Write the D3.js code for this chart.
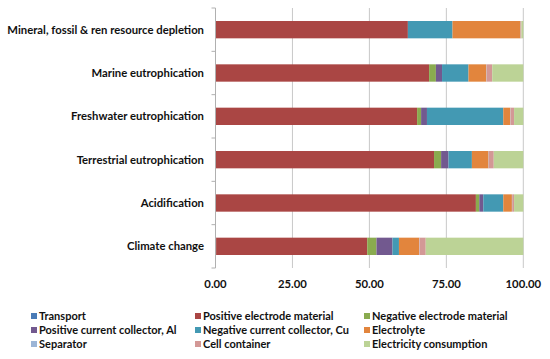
<!DOCTYPE html>
<html>
<head>
<meta charset="utf-8">
<script src="https://cdn.jsdelivr.net/npm/d3@7"></script>
<style>
  body { margin: 0; background: #fff; }
  svg { font-family: Lato, "Open Sans", sans-serif; font-weight: bold; }
</style>
</head>
<body>
<svg width="550" height="359"></svg>
<script>
const categories = ["Mineral, fossil & ren resource depletion", "Marine eutrophication", "Freshwater eutrophication",
    "Terrestrial eutrophication", "Acidification", "Climate change"];

const seriesNames = ["Transport", "Positive electrode material", "Negative electrode material",
    "Positive current collector, Al", "Negative current collector, Cu", "Electrolyte",
    "Separator", "Cell container", "Electricity consumption"];

// one array per series, in category order
const transport    = [0.0, 0.1, 0.1, 0.1, 0.1, 0.2];
const positiveElec = [62.5, 69.3, 65.4, 70.9, 84.5, 49.1];
const negativeElec = [0.0, 2.2, 1.3, 2.3, 1.1, 3.0];
const positiveAl   = [0.0, 2.0, 1.9, 2.4, 1.3, 5.2];
const negativeCu   = [14.5, 8.6, 24.8, 7.6, 6.5, 2.1];
const electrolyte  = [22.1, 5.8, 2.3, 5.4, 2.8, 6.6];
const separator    = [0.1, 0.1, 0.1, 0.1, 0.1, 0.1];
const cellContainer = [0.2, 1.8, 1.1, 1.6, 0.6, 2.0];
const electricity  = [0.6, 10.1, 3.0, 9.6, 3.0, 31.7];

const tickValues = [0, 25, 50, 75, 100];

const seriesValues = [transport, positiveElec, negativeElec, positiveAl, negativeCu,
    electrolyte, separator, cellContainer, electricity];

const colors = ["#4a7bb7", "#aa4644", "#8aab4f", "#72598f", "#4399b3", "#e2853d",
    "#9cb5d6", "#d39896", "#bcd396"];

const table = categories.map((c, i) => {
    const row = { category: c };
    seriesNames.forEach((s, j) => row[s] = seriesValues[j][i]);
    return row;
});

const stacked = d3.stack().keys(seriesNames)(table);

const svg = d3.select("svg");
const margin = { left: 215.5, right: 26.7, top: 8, bottom: 91 };
const width = 550, height = 359;

const x = d3.scaleLinear().domain([0, 100]).range([margin.left, width - margin.right]);
const y = d3.scaleBand().domain(categories).range([margin.top, height - margin.bottom]).paddingInner(0.6).paddingOuter(0.3);

// gridlines
svg.append("g")
    .selectAll("line")
    .data(tickValues.slice(1))
    .join("line")
    .attr("x1", d => x(d)).attr("x2", d => x(d))
    .attr("y1", margin.top).attr("y2", height - margin.bottom)
    .attr("stroke", "#c8c8c8")
    .attr("stroke-width", 1);

// bars
svg.append("g")
    .selectAll("g")
    .data(stacked)
    .join("g")
    .attr("fill", (d, i) => colors[i])
    .selectAll("rect")
    .data(d => d)
    .join("rect")
    .attr("x", d => x(d[0]))
    .attr("width", d => x(d[1]) - x(d[0]))
    .attr("y", d => y(d.data.category))
    .attr("height", y.bandwidth());

// y axis line and ticks
const yAxis = svg.append("g");
yAxis.append("line")
    .attr("x1", margin.left).attr("x2", margin.left)
    .attr("y1", margin.top).attr("y2", height - margin.bottom)
    .attr("stroke", "#b0b0b0");
yAxis.selectAll("line.tick")
    .data(d3.range(categories.length + 1))
    .join("line")
    .attr("class", "tick")
    .attr("x1", margin.left - 4).attr("x2", margin.left)
    .attr("y1", i => margin.top + i * (height - margin.bottom - margin.top) / categories.length)
    .attr("y2", i => margin.top + i * (height - margin.bottom - margin.top) / categories.length)
    .attr("stroke", "#b0b0b0");

// category labels
svg.append("g")
    .selectAll("text")
    .data(categories)
    .join("text")
    .attr("x", 204)
    .attr("y", d => y(d) + y.bandwidth() / 2)
    .attr("dy", "0.35em")
    .attr("text-anchor", "end")
    .attr("font-size", "11.3px")
    .attr("fill", "#111")
    .text(d => d);

// x tick labels
svg.append("g")
    .selectAll("text")
    .data(tickValues)
    .join("text")
    .attr("x", d => x(d))
    .attr("y", 284)
    .attr("dy", "0.35em")
    .attr("text-anchor", "middle")
    .attr("font-size", "11.3px")
    .attr("fill", "#111")
    .text(d => d3.format(".2f")(d));

// legend
const legendCols = [31, 195, 364];
const legendRows = [316, 330, 344];
const legend = svg.append("g")
    .selectAll("g")
    .data(seriesNames)
    .join("g")
    .attr("transform", (d, i) => `translate(${legendCols[i % 3]},${legendRows[Math.floor(i / 3)]})`);
legend.append("rect")
    .attr("x", 0).attr("y", -3)
    .attr("width", 6).attr("height", 6)
    .attr("fill", (d, i) => colors[i]);
legend.append("text")
    .attr("x", 8)
    .attr("dy", "0.35em")
    .attr("font-size", "11px")
    .attr("fill", "#111")
    .text(d => d);
</script>
</body>
</html>
